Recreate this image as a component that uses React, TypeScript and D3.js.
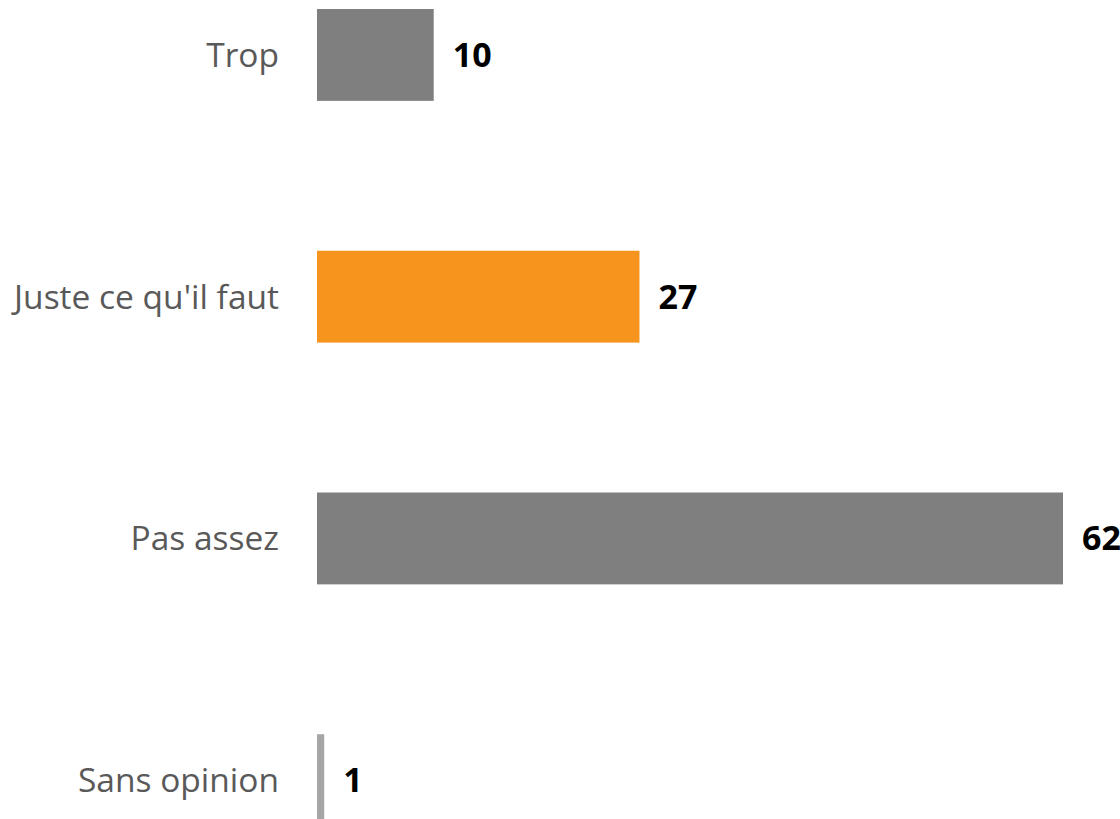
import React, { useEffect } from "react";
import * as d3 from "d3";

const categories = ["Trop", "Juste ce qu'il faut", "Pas assez", "Sans opinion"];
const values = [9.7, 26.8, 62, 0.6];
const valueLabels = ["10", "27", "62", "1"];
const barColors = ["#7f7f7f", "#f7941e", "#7f7f7f", "#a6a6a6"];

const width = 1120;
const height = 819;

export default function App() {
  useEffect(() => {
    document.body.style.margin = "0";
  }, []);

  const x0 = 317;
  // horizontal scale: 62 -> bar ends near x=1063
  const x = d3.scaleLinear().domain([0, 62]).range([x0, 1063]);

  // bands are cut at the top/bottom like the original export
  const step = 241.75;
  const y = d3
    .scaleBand<string>()
    .domain(categories)
    .range([9 - 0.31 * step, 9 - 0.31 * step + step * 4])
    .paddingInner(0.62)
    .paddingOuter(0.31);

  const font = "'Open Sans', sans-serif";

  return (
    <svg width={width} height={height} style={{ display: "block" }}>
      <rect width={width} height={height} fill="#ffffff" />
      {categories.map((c, i) => {
        const yTop = y(c) ?? 0;
        const cy = yTop + y.bandwidth() / 2;
        return (
          <g key={c}>
            <rect
              x={x(0)}
              y={yTop}
              width={x(values[i]) - x(0)}
              height={y.bandwidth()}
              fill={barColors[i]}
            />
            {/* category label */}
            <text
              x={279}
              y={cy + 12}
              textAnchor="end"
              fontFamily={font}
              fontSize={33.5}
              fill="#595959"
            >
              {c}
            </text>
            {/* value label */}
            <text
              x={x(values[i]) + 19}
              y={cy + 12}
              fontFamily={font}
              fontSize={34}
              fontWeight="bold"
              fill="#000000"
            >
              {valueLabels[i]}
            </text>
          </g>
        );
      })}
    </svg>
  );
}
